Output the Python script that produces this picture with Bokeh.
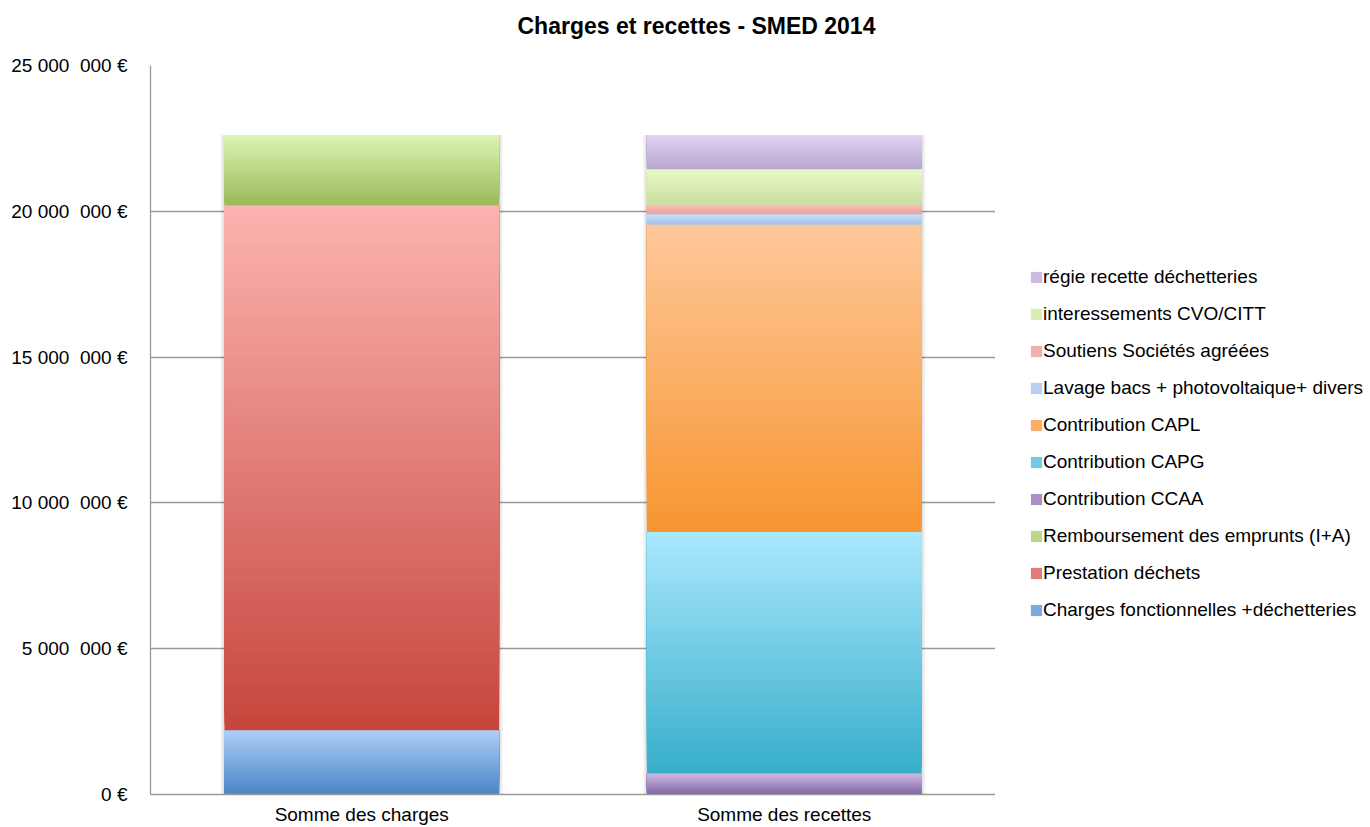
import numpy as np
from bokeh.plotting import figure
from bokeh.layouts import row
from bokeh.models import (ColumnDataSource, FactorRange, Range1d, FixedTicker,
                          Legend, LegendItem, Title)
from bokeh.embed import file_html
from bokeh.resources import INLINE

# ---------------- data ----------------
categories = ["Somme des charges", "Somme des recettes"]

series_names = [
    "Charges fonctionnelles +déchetteries",
    "Prestation déchets",
    "Remboursement des emprunts (I+A)",
    "Contribution CCAA",
    "Contribution CAPG",
    "Contribution CAPL",
    "Lavage bacs + photovoltaique+ divers",
    "Soutiens Sociétés agréées",
    "interessements CVO/CITT",
    "régie recette déchetteries",
]

charges_fonctionnelles = [2.20e6, 0]
prestation_dechets = [18.01e6, 0]
remboursement_emprunts = [2.40e6, 0]
contribution_ccaa = [0, 0.72e6]
contribution_capg = [0, 8.28e6]
contribution_capl = [0, 10.55e6]
lavage_bacs = [0, 0.35e6]
soutiens_societes = [0, 0.31e6]
interessements = [0, 1.23e6]
regie_recette = [0, 1.17e6]

series_values = [charges_fonctionnelles, prestation_dechets, remboursement_emprunts,
                 contribution_ccaa, contribution_capg, contribution_capl,
                 lavage_bacs, soutiens_societes, interessements, regie_recette]

tick_values = [0, 5e6, 10e6, 15e6, 20e6, 25e6]
tick_labels = ["0 €", "5 000 \u00a0000 €", "10 000 \u00a0000 €", "15 000 \u00a0000 €",
               "20 000 \u00a0000 €", "25 000 \u00a0000 €"]

# ---------------- styles ----------------
# (bottom colour, top colour) of each vertical gradient
gradients = [
    ("#4a86c6", "#b0cdf8"),
    ("#c6463d", "#fcb3af"),
    ("#9aba58", "#dcf4b4"),
    ("#8366a6", "#cebae4"),
    ("#38aecb", "#aae8fe"),
    ("#f79631", "#fec89a"),
    ("#a4c2ec", "#c8defc"),
    ("#e9a09d", "#fbbeba"),
    ("#c9de9f", "#e8fac6"),
    ("#b8a6cf", "#e0d2f2"),
]
FONT = "Liberation Sans"
N_STRIPS = 80
BAR_W = 0.65


def hex2rgb(h):
    h = h.lstrip("#")
    return np.array([int(h[i:i + 2], 16) for i in (0, 2, 4)], dtype=float)


def mix(c0, c1, t):
    c = hex2rgb(c0) * (1 - t) + hex2rgb(c1) * t
    return "#%02x%02x%02x" % tuple(int(round(v)) for v in c)


H = 827
p = figure(x_range=FactorRange(*categories, range_padding=0),
           y_range=Range1d(0, 25e6),
           width=995, height=H, output_backend="svg", toolbar_location=None,
           min_border_left=150, min_border_right=0, min_border_top=65,
           min_border_bottom=33)
p.outline_line_color = None
p.background_fill_color = "white"
p.border_fill_color = "white"

# real title (outermost) + a thin spacer panel between it and the frame
p.title = Title(text="Charges et recettes - SMED 2014", align="left", offset=367,
                text_font_size="23px", text_font_style="bold", text_font=FONT,
                text_color="black", standoff=0)
p.add_layout(Title(text=" ", text_font_size="1px", standoff=24), "above")

# grid / axes
p.xgrid.grid_line_color = None
p.ygrid.ticker = FixedTicker(ticks=tick_values)
p.ygrid.grid_line_color = "#999999"
p.ygrid.grid_line_width = 1.3

p.yaxis.ticker = FixedTicker(ticks=tick_values)
p.yaxis.major_label_overrides = {v: l for v, l in zip(tick_values, tick_labels)}
p.yaxis.axis_line_color = "#999999"
p.yaxis.axis_line_width = 1.3
p.yaxis.major_tick_line_color = None
p.yaxis.minor_tick_line_color = None
p.yaxis.major_label_standoff = 17
p.yaxis.major_label_text_font = FONT
p.yaxis.major_label_text_font_size = "19px"
p.yaxis.major_label_text_color = "black"

p.xaxis.axis_line_color = "#999999"
p.xaxis.axis_line_width = 1.3
p.xaxis.major_tick_line_color = None
p.xaxis.minor_tick_line_color = None
p.xaxis.major_label_standoff = 3
p.xaxis.major_label_text_font = FONT
p.xaxis.major_label_text_font_size = "19px"
p.xaxis.major_label_text_color = "black"

# soft shadow behind bars
totals = [sum(s[i] for s in series_values) for i in range(len(categories))]
px = 1.0 / 422.5
for k in range(1, 5):
    p.vbar(x=categories, top=totals, bottom=0, width=BAR_W + 2 * k * px,
           fill_color="#000000", fill_alpha=0.03, line_color=None)

# legend-only figure on the right (its range holds none of the categories,
# so the shared data is not drawn there; it only feeds the legend swatches)
pl = figure(x_range=FactorRange("legende", range_padding=0),
            y_range=Range1d(0, 1),
            width=375, height=H, output_backend="svg", toolbar_location=None,
            x_axis_location=None, y_axis_location=None,
            min_border_left=0, min_border_right=0, min_border_top=0,
            min_border_bottom=0)
pl.outline_line_color = None
pl.grid.grid_line_color = None
pl.background_fill_color = "white"
pl.border_fill_color = "white"

# gradient-filled stacked segments
base = [0.0] * len(categories)
legend_renderers = []
for name, vals, (cb, ct) in zip(series_names, series_values, gradients):
    xs, bottoms, tops, cols = [], [], [], []
    for ci, cat in enumerate(categories):
        v = vals[ci]
        if v > 0:
            b = base[ci]
            for i in range(N_STRIPS):
                xs.append(cat)
                bottoms.append(b + v * i / N_STRIPS)
                tops.append(b + v)
                cols.append(mix(cb, ct, i / (N_STRIPS - 1)))
            base[ci] += v
    src = ColumnDataSource(dict(x=xs, bottom=bottoms, top=tops, color=cols))
    p.vbar(x="x", bottom="bottom", top="top", width=BAR_W, fill_color="color",
           line_color=None, source=src)
    r = pl.vbar(x="x", bottom="bottom", top="top", width=BAR_W, fill_color="color",
                line_color=None, source=src)
    legend_renderers.append(r)

items = [LegendItem(label=n, renderers=[r], index=N_STRIPS // 2)
         for n, r in zip(series_names, legend_renderers)]
items.reverse()
legend = Legend(items=items, location=(34, 173), orientation="vertical",
                label_text_font=FONT, label_text_font_size="19px",
                label_text_color="black", glyph_width=14, glyph_height=14,
                label_height=22, spacing=15, padding=0, margin=0,
                label_standoff=0, border_line_color=None,
                background_fill_alpha=0)
pl.add_layout(legend, "center")

layout = row(p, pl, spacing=0)
open("out.html", "w").write(file_html(layout, INLINE))
